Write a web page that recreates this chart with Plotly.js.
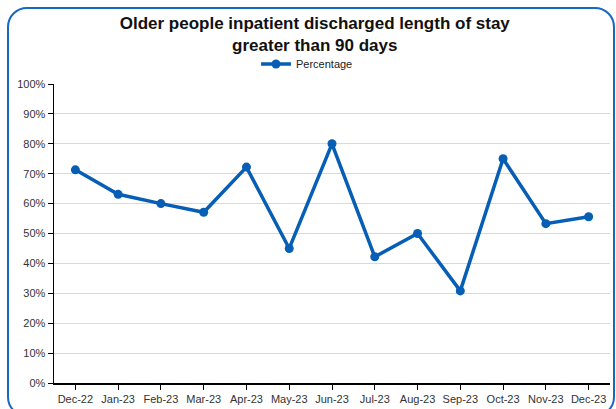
<!DOCTYPE html>
<html>
<head>
<meta charset="utf-8">
<script src="https://cdn.plot.ly/plotly-3.0.1.min.js"></script>
<style>
html, body { margin: 0; padding: 0; width: 616px; height: 409px; overflow: hidden; background: #ffffff; }
#frame { position: absolute; left: 7px; top: 7px; width: 608px; height: 410px; border: 2.5px solid #1668c4; border-radius: 20px; box-sizing: border-box; pointer-events: none; z-index: 5; }
#chart { position: absolute; left: 0; top: 0; width: 616px; height: 409px; }
</style>
</head>
<body>
<div id="chart"></div>
<div id="frame"></div>
<script>
const months = ["Dec-22", "Jan-23", "Feb-23", "Mar-23", "Apr-23", "May-23", "Jun-23", "Jul-23", "Aug-23", "Sep-23", "Oct-23", "Nov-23", "Dec-23"];
const percentage = [0.713, 0.631, 0.600, 0.571, 0.722, 0.450, 0.800, 0.422, 0.500, 0.308, 0.750, 0.533, 0.556];
const seriesName = "Percentage";
const yTickVals = [0, 0.1, 0.2, 0.3, 0.4, 0.5, 0.6, 0.7, 0.8, 0.9, 1.0];

const trace = {
  x: months,
  y: percentage,
  name: seriesName,
  type: "scatter",
  mode: "lines+markers",
  line: { color: "#065eb5", width: 3.5 },
  marker: { color: "#065eb5", size: 9, symbol: "circle" },
  showlegend: true
};

const layout = {
  width: 616,
  height: 409,
  paper_bgcolor: "#ffffff",
  plot_bgcolor: "#ffffff",
  font: { family: "Liberation Sans, Arial, sans-serif", color: "#333333", size: 11 },
  margin: { l: 54, r: 6, t: 84, b: 26, pad: 0 },
  title: {
    text: "<b>Older people inpatient discharged length of stay<br>greater than 90 days</b>",
    font: { family: "Liberation Sans, Arial, sans-serif", size: 17, color: "#111111" },
    x: 0.511,
    xref: "container",
    xanchor: "center",
    y: 0.929,
    yref: "container",
    yanchor: "top"
  },
  showlegend: true,
  legend: {
    orientation: "h",
    x: 0.455,
    xanchor: "center",
    y: 1.067,
    yanchor: "middle",
    font: { size: 11, color: "#222222" },
    itemwidth: 30,
    bgcolor: "rgba(0,0,0,0)"
  },
  xaxis: {
    type: "category",
    range: [-0.5, 12.5],
    showline: true,
    linecolor: "#000000",
    linewidth: 1.5,
    ticks: "outside",
    ticklen: 5,
    tickcolor: "#000000",
    tickwidth: 1,
    showgrid: false,
    zeroline: false,
    tickfont: { size: 11, color: "#333333" },
    fixedrange: true
  },
  yaxis: {
    range: [0, 1],
    tickvals: yTickVals,
    tickformat: ".0%",
    showline: true,
    linecolor: "#000000",
    linewidth: 1.5,
    ticks: "outside",
    ticklen: 5,
    tickcolor: "#000000",
    tickwidth: 1,
    showgrid: true,
    gridcolor: "#d9d9d9",
    gridwidth: 1,
    zeroline: false,
    tickfont: { size: 11, color: "#333333" },
    fixedrange: true
  }
};

Plotly.newPlot("chart", [trace], layout, { displayModeBar: false, staticPlot: true });
</script>
</body>
</html>
